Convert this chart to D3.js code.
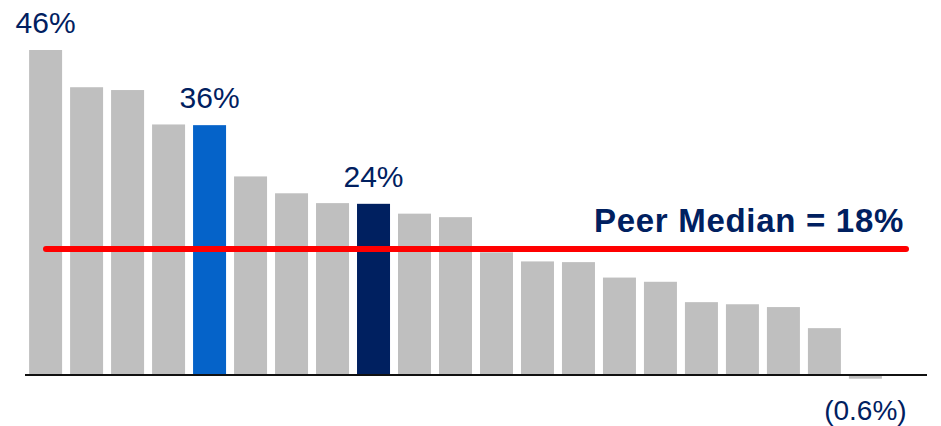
<!DOCTYPE html>
<html>
<head>
<meta charset="utf-8">
<script src="https://cdn.jsdelivr.net/npm/d3@7"></script>
<style>
  body { margin: 0; background: #fff; }
  svg { display: block; }
</style>
</head>
<body>
<script>
var width = 941,
    height = 426;

// peers sorted high to low, values in %
var peers = ["P1","P2","P3","P4","P5","P6","P7","P8","P9","P10","P11",
             "P12","P13","P14","P15","P16","P17","P18","P19","P20","P21"];
var values = [46.2, 40.9, 40.5, 35.6, 35.5, 28.2, 25.8, 24.4, 24.3, 22.9, 22.4,
              17.4, 16.1, 16.0, 13.8, 13.2, 10.3, 10.0, 9.6, 6.6, -0.6];
// which bars are highlighted
var colorKey = ["peer","peer","peer","peer","light","peer","peer","peer","dark","peer","peer",
                "peer","peer","peer","peer","peer","peer","peer","peer","peer","peer"];
// value labels shown above / below bars
var labelText = {"P1": "46%", "P5": "36%", "P9": "24%", "P21": "(0.6%)"};
var median = 18;
var medianText = "Peer Median = 18%";

var colors = {peer: "#BFBFBF", light: "#0563C9", dark: "#002060"};
var navy = "#002060";

var svg = d3.select("body")
    .append("svg")
    .attr("width", width)
    .attr("height", height);

var x = d3.scaleBand()
    .domain(peers)
    .range([25, 886])
    .paddingInner(0.195)
    .paddingOuter(0.1);

var y = d3.scaleLinear()
    .domain([0, 46.2])
    .range([374.5, 50]);

var data = peers.map(function(p, i) {
    return {name: p, value: values[i], key: colorKey[i]};
});

// bars
svg.selectAll("rect.bar")
    .data(data)
    .enter()
    .append("rect")
    .attr("class", "bar")
    .attr("x", d => x(d.name))
    .attr("width", x.bandwidth())
    .attr("y", d => y(Math.max(0, d.value)))
    .attr("height", d => Math.abs(y(d.value) - y(0)))
    .attr("fill", d => colors[d.key]);

// baseline
svg.append("line")
    .attr("x1", 25)
    .attr("x2", 927)
    .attr("y1", y(0) + 0.5)
    .attr("y2", y(0) + 0.5)
    .attr("stroke", "#111")
    .attr("stroke-width", 1.8);

// median line
svg.append("line")
    .attr("x1", 46)
    .attr("x2", 906)
    .attr("y1", y(median) + 1)
    .attr("y2", y(median) + 1)
    .attr("stroke", "#FF0000")
    .attr("stroke-width", 6)
    .attr("stroke-linecap", "round");

svg.append("text")
    .attr("x", 904)
    .attr("y", y(median) - 16)
    .attr("text-anchor", "end")
    .attr("fill", navy)
    .style("font-family", "'Liberation Sans', Arial, sans-serif")
    .style("font-weight", "bold")
    .style("font-size", "33px")
    .style("letter-spacing", "0.7px")
    .text(medianText);

// value labels
svg.selectAll("text.lbl")
    .data(data.filter(d => labelText[d.name]))
    .enter()
    .append("text")
    .attr("class", "lbl")
    .attr("x", d => x(d.name) + x.bandwidth() / 2)
    .attr("y", d => d.value >= 0 ? y(d.value) - 17 : y(0) + 45)
    .attr("text-anchor", "middle")
    .attr("fill", navy)
    .style("font-family", "'Liberation Sans', Arial, sans-serif")
    .style("font-size", d => d.value >= 0 ? "30px" : "28px")
    .text(d => labelText[d.name]);
</script>
</body>
</html>
